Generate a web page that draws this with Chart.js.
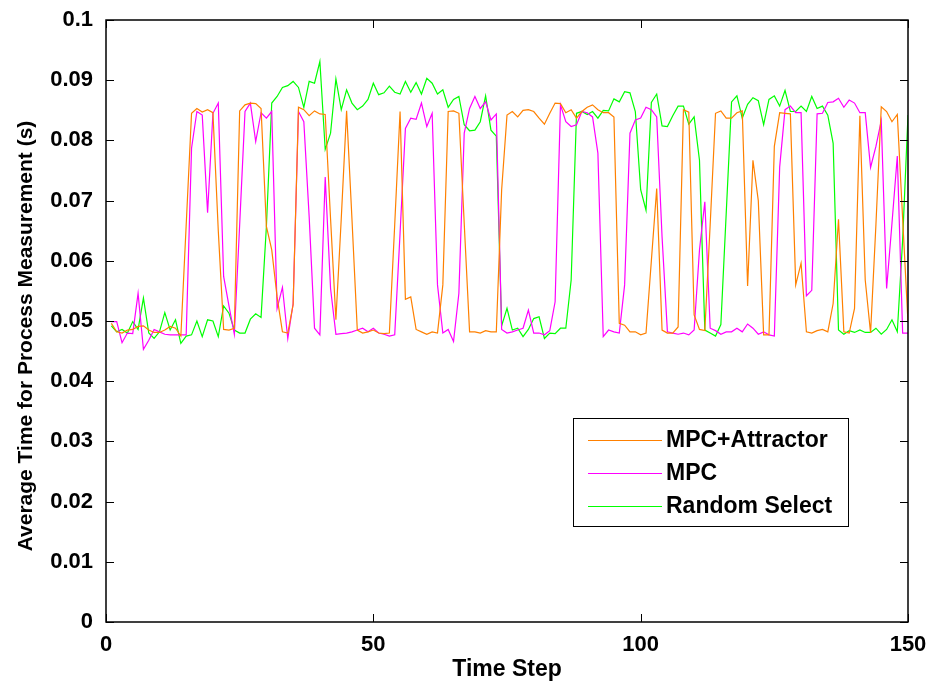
<!DOCTYPE html>
<html>
<head>
<meta charset="utf-8">
<script src="https://cdn.jsdelivr.net/npm/chart.js@4/dist/chart.umd.min.js"></script>
<style>
  html, body { margin: 0; padding: 0; background: #fff; }
  #wrap { width: 935px; height: 687px; }
</style>
</head>
<body>
<div id="wrap"><canvas id="c" width="935" height="687"></canvas></div>
<script>
// Average processing time per time step (seconds), steps 1..150
const seriesNames = ["MPC+Attractor", "MPC", "Random Select"];
const seriesColors = ["#ff8000", "#ff00ff", "#00ff00"];

const mpcAttractor = [
  0.0496,0.0482,0.0480,0.0485,0.0486,0.0491,0.0492,0.0485,0.0481,0.0481,
  0.0485,0.0491,0.0488,0.0475,0.0660,0.0845,0.0853,0.0847,0.0851,0.0846,
  0.0650,0.0486,0.0485,0.0488,0.0849,0.0859,0.0862,0.0861,0.0853,0.0657,
  0.0618,0.0540,0.0482,0.0480,0.0527,0.0855,0.0851,0.0841,0.0849,0.0844,
  0.0843,0.0670,0.0502,0.0670,0.0849,0.0670,0.0485,0.0480,0.0482,0.0485,
  0.0480,0.0479,0.0480,0.0660,0.0848,0.0536,0.0540,0.0486,0.0482,0.0478,
  0.0482,0.0480,0.0560,0.0848,0.0849,0.0845,0.0662,0.0482,0.0482,0.0480,
  0.0484,0.0482,0.0482,0.0718,0.0842,0.0848,0.0839,0.0850,0.0851,0.0848,
  0.0837,0.0827,0.0845,0.0862,0.0861,0.0846,0.0851,0.0837,0.0848,0.0855,
  0.0859,0.0851,0.0846,0.0846,0.0839,0.0496,0.0493,0.0482,0.0482,0.0477,
  0.0480,0.0600,0.0720,0.0485,0.0480,0.0480,0.0490,0.0851,0.0847,0.0510,
  0.0486,0.0484,0.0660,0.0845,0.0849,0.0837,0.0837,0.0846,0.0849,0.0558,
  0.0767,0.0700,0.0477,0.0477,0.0790,0.0846,0.0845,0.0844,0.0560,0.0596,
  0.0482,0.0480,0.0484,0.0486,0.0482,0.0529,0.0669,0.0482,0.0480,0.0521,
  0.0841,0.0568,0.0480,0.0660,0.0856,0.0848,0.0831,0.0843,0.0670,0.0497
];

const mpc = [
  0.0499,0.0499,0.0464,0.0480,0.0479,0.0546,0.0453,0.0468,0.0486,0.0482,
  0.0478,0.0477,0.0477,0.0477,0.0477,0.0787,0.0848,0.0842,0.0680,0.0845,
  0.0862,0.0574,0.0525,0.0478,0.0660,0.0848,0.0862,0.0798,0.0846,0.0837,
  0.0848,0.0521,0.0556,0.0471,0.0529,0.0848,0.0831,0.0673,0.0488,0.0477,
  0.0739,0.0554,0.0478,0.0479,0.0480,0.0482,0.0485,0.0488,0.0482,0.0488,
  0.0480,0.0478,0.0475,0.0477,0.0646,0.0820,0.0837,0.0835,0.0862,0.0823,
  0.0845,0.0560,0.0480,0.0486,0.0466,0.0546,0.0812,0.0853,0.0873,0.0853,
  0.0864,0.0834,0.0844,0.0486,0.0480,0.0482,0.0485,0.0488,0.0518,0.0480,
  0.0480,0.0477,0.0484,0.0532,0.0859,0.0831,0.0823,0.0826,0.0848,0.0846,
  0.0839,0.0779,0.0474,0.0485,0.0482,0.0480,0.0560,0.0812,0.0834,0.0837,
  0.0855,0.0851,0.0839,0.0640,0.0482,0.0480,0.0478,0.0480,0.0477,0.0485,
  0.0618,0.0698,0.0488,0.0484,0.0478,0.0482,0.0482,0.0488,0.0482,0.0495,
  0.0488,0.0478,0.0482,0.0477,0.0475,0.0756,0.0851,0.0857,0.0846,0.0846,
  0.0542,0.0551,0.0844,0.0845,0.0863,0.0864,0.0870,0.0855,0.0867,0.0862,
  0.0846,0.0846,0.0755,0.0790,0.0833,0.0554,0.0662,0.0774,0.0480,0.0480
];

const randomSelect = [
  0.0492,0.0482,0.0486,0.0480,0.0499,0.0486,0.0538,0.0480,0.0471,0.0482,
  0.0514,0.0485,0.0502,0.0463,0.0475,0.0477,0.0500,0.0474,0.0502,0.0500,
  0.0474,0.0525,0.0513,0.0485,0.0480,0.0480,0.0503,0.0512,0.0506,0.0657,
  0.0862,0.0873,0.0888,0.0891,0.0898,0.0888,0.0855,0.0898,0.0895,0.0931,
  0.0785,0.0812,0.0902,0.0851,0.0884,0.0862,0.0851,0.0857,0.0868,0.0895,
  0.0876,0.0879,0.0890,0.0880,0.0877,0.0898,0.0880,0.0896,0.0877,0.0903,
  0.0895,0.0877,0.0884,0.0855,0.0868,0.0873,0.0826,0.0816,0.0817,0.0831,
  0.0874,0.0817,0.0807,0.0492,0.0521,0.0485,0.0488,0.0474,0.0486,0.0504,
  0.0507,0.0471,0.0480,0.0479,0.0488,0.0488,0.0568,0.0845,0.0848,0.0843,
  0.0848,0.0837,0.0850,0.0849,0.0869,0.0864,0.0881,0.0879,0.0848,0.0718,
  0.0684,0.0863,0.0877,0.0824,0.0823,0.0841,0.0857,0.0857,0.0827,0.0839,
  0.0767,0.0485,0.0480,0.0475,0.0494,0.0679,0.0864,0.0874,0.0837,0.0860,
  0.0871,0.0866,0.0826,0.0868,0.0874,0.0857,0.0883,0.0848,0.0848,0.0857,
  0.0848,0.0873,0.0853,0.0857,0.0842,0.0795,0.0485,0.0478,0.0484,0.0481,
  0.0485,0.0481,0.0481,0.0488,0.0478,0.0486,0.0502,0.0482,0.0635,0.0842
];

const xTicks = [0, 50, 100, 150];
const yTicks = [0, 0.01, 0.02, 0.03, 0.04, 0.05, 0.06, 0.07, 0.08, 0.09, 0.1];
const xTitle = 'Time Step';
const yTitle = 'Average Time for Process Measurement (s)';

const FONT = "'Liberation Sans', Arial, Helvetica, sans-serif";

function toPoints(values) {
  return values.map((v, i) => ({ x: i + 1, y: v }));
}

// Boxed axes with inward tick marks on all four sides, plus the vertical axis title
const framePlugin = {
  id: 'frame',
  afterDatasetsDraw(chart) {
    const { ctx, chartArea: a, scales: { x, y } } = chart;
    const len = 8;
    ctx.save();
    ctx.strokeStyle = '#000';
    ctx.lineWidth = 1.5;
    ctx.strokeRect(a.left, a.top, a.right - a.left, a.bottom - a.top);
    ctx.lineWidth = 1;
    ctx.beginPath();
    xTicks.forEach(v => {
      const px = Math.round(x.getPixelForValue(v)) + 0.5;
      ctx.moveTo(px, a.bottom); ctx.lineTo(px, a.bottom - len);
      ctx.moveTo(px, a.top); ctx.lineTo(px, a.top + len);
    });
    yTicks.forEach(v => {
      const py = Math.round(y.getPixelForValue(v)) + 0.5;
      ctx.moveTo(a.left, py); ctx.lineTo(a.left + len, py);
      ctx.moveTo(a.right, py); ctx.lineTo(a.right - len, py);
    });
    ctx.stroke();

    ctx.translate(26, 336);
    ctx.rotate(-Math.PI / 2);
    ctx.font = "bold 21px " + FONT;
    ctx.fillStyle = '#000';
    ctx.textAlign = 'center';
    ctx.textBaseline = 'middle';
    ctx.fillText(yTitle, 0, 0);
    ctx.restore();
  }
};

// Boxed legend in the lower right of the plot
const legendBox = {
  id: 'legendBox',
  afterDraw(chart) {
    const { ctx } = chart;
    const bx = 573, by = 418, bw = 275, bh = 108;
    ctx.save();
    ctx.fillStyle = '#fff';
    ctx.fillRect(bx, by, bw, bh);
    ctx.strokeStyle = '#000';
    ctx.lineWidth = 1;
    ctx.strokeRect(bx + 0.5, by + 0.5, bw, bh);
    ctx.font = "bold 23px " + FONT;
    ctx.textBaseline = 'middle';
    chart.data.datasets.forEach((ds, i) => {
      const ly = by + 22 + i * 33;
      ctx.strokeStyle = ds.borderColor;
      ctx.lineWidth = 1.2;
      ctx.beginPath();
      ctx.moveTo(bx + 15, ly + 0.5);
      ctx.lineTo(bx + 89, ly + 0.5);
      ctx.stroke();
      ctx.fillStyle = '#000';
      ctx.fillText(ds.label, bx + 93, ly + 1);
    });
    ctx.restore();
  }
};

const seriesValues = [mpcAttractor, mpc, randomSelect];

new Chart(document.getElementById('c'), {
  type: 'line',
  data: {
    datasets: seriesValues.map((vals, i) => ({
      label: seriesNames[i],
      data: toPoints(vals),
      borderColor: seriesColors[i],
      backgroundColor: seriesColors[i],
      borderWidth: 1.2,
      pointRadius: 0,
      tension: 0,
      fill: false
    }))
  },
  options: {
    responsive: false,
    animation: false,
    events: [],
    layout: { padding: { top: 20, right: 27, left: 0, bottom: 0 } },
    plugins: { legend: { display: false }, tooltip: { enabled: false } },
    scales: {
      x: {
        type: 'linear',
        min: 0, max: 150,
        afterBuildTicks(s) { s.ticks = xTicks.map(v => ({ value: v })); },
        afterFit(s) { s.height = 65; s.paddingLeft = 0; s.paddingRight = 0; },
        grid: { display: false, drawTicks: false },
        border: { display: false },
        ticks: {
          color: '#000', padding: 10, maxRotation: 0,
          font: { family: FONT, size: 22, weight: 'bold' }
        },
        title: {
          display: true, text: xTitle, color: '#000',
          font: { family: FONT, size: 23, weight: 'bold' },
          padding: { top: 0, bottom: 4 }
        }
      },
      y: {
        min: 0, max: 0.1,
        afterBuildTicks(s) { s.ticks = yTicks.map(v => ({ value: v })); },
        afterFit(s) { s.width = 106; s.paddingTop = 0; s.paddingBottom = 0; },
        grid: { display: false, drawTicks: false },
        border: { display: false },
        ticks: {
          color: '#000', padding: 13,
          font: { family: FONT, size: 22, weight: 'bold' },
          callback: v => v === 0 ? '0' : String(parseFloat(v.toFixed(2)))
        }
      }
    }
  },
  plugins: [framePlugin, legendBox]
});
</script>
</body>
</html>
